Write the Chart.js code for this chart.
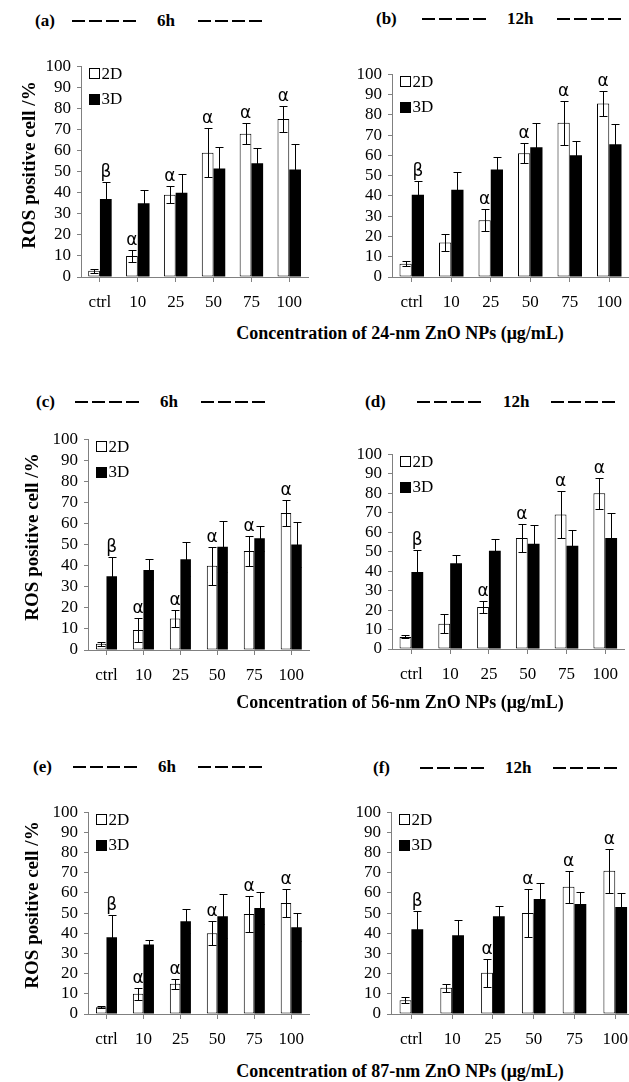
<!DOCTYPE html>
<html><head><meta charset="utf-8">
<script src="https://cdn.jsdelivr.net/npm/chart.js@4.4.1/dist/chart.umd.min.js"></script>
<style>
html,body{margin:0;padding:0;background:#fff;width:629px;height:1082px;overflow:hidden;position:relative;}
canvas{position:absolute;}
.t{position:absolute;font-family:"Liberation Serif",serif;font-weight:bold;font-size:17px;color:#000;line-height:17px;white-space:nowrap;}
.d{position:absolute;height:2px;width:64px;background:repeating-linear-gradient(90deg,#000 0 13px,transparent 13px 17px);}
.yt{position:absolute;font-family:"Liberation Serif",serif;font-weight:bold;font-size:19px;line-height:19px;white-space:nowrap;transform:translate(-50%,-50%) rotate(-90deg);}
.xt{position:absolute;font-family:"Liberation Serif",serif;font-weight:bold;font-size:18px;line-height:18px;white-space:nowrap;transform:translate(-50%,-50%);}
</style>
</head><body>
<script>
// ---- data ----
const categories = ['ctrl', '10', '25', '50', '75', '100'];
const seriesLabels = ['2D', '3D'];
const yTicks = [0, 10, 20, 30, 40, 50, 60, 70, 80, 90, 100];

// (a) 24-nm, 6h
const a2D = [3, 10, 39, 59, 68, 75];
const a2Derr = [1, 3, 4, 11.5, 5, 6];
const a3D = [37, 35, 40, 51.5, 54, 51];
const a3Derr = [8, 6.5, 9, 10, 7, 12];
// (b) 24-nm, 12h
const b2D = [6.5, 17, 28, 61, 76, 85.5];
const b2Derr = [1.3, 4, 5.5, 5, 11, 6];
const b3D = [40.5, 43, 53, 64, 60, 65.5];
const b3Derr = [7, 9, 6, 12, 7, 9.7];
// (c) 56-nm, 6h
const c2D = [3, 9.5, 15, 40, 47, 65];
const c2Derr = [1, 5.5, 4, 9, 7, 6];
const c3D = [35, 38, 43, 49, 53, 50];
const c3Derr = [9, 5, 8, 12, 6, 10.5];
// (d) 56-nm, 12h
const d2D = [6.2, 13, 21.5, 57, 69, 80];
const d2Derr = [0.8, 5, 3, 7, 12, 8];
const d3D = [39.5, 44, 50.5, 54, 53, 57];
const d3Derr = [11.5, 4, 6, 9.5, 8, 13];
// (e) 87-nm, 6h
const e2D = [3.3, 10, 15, 40, 49.5, 55];
const e2Derr = [0.5, 3, 2.5, 6, 9, 7];
const e3D = [38, 34.5, 46, 48.5, 52.5, 43];
const e3Derr = [11, 2, 6, 11, 8, 7];
// (f) 87-nm, 12h
const f2D = [6.8, 13, 20.5, 50, 63, 71];
const f2Derr = [1.5, 2, 7, 12, 8, 11];
const f3D = [42, 39, 48.5, 57, 54.5, 53];
const f3Derr = [9, 7.5, 5, 8, 6, 7];

// significance marks
const marks6h2D = ['', 'α', 'α', 'α', 'α', 'α'];
const marks12h2D = ['', '', 'α', 'α', 'α', 'α'];
const marks3D = ['β', '', '', '', '', ''];

const panelLetters = ['(a)', '(b)', '(c)', '(d)', '(e)', '(f)'];
const panelTimes = ['6h', '12h', '6h', '12h', '6h', '12h'];
const yTitle = 'ROS positive cell /%';
const xTitles = ['Concentration of 24-nm ZnO NPs (μg/mL)', 'Concentration of 56-nm ZnO NPs (μg/mL)', 'Concentration of 87-nm ZnO NPs (μg/mL)'];

// ---- layout ----
const YW = 60, PT = 14, XH = 45;
const FONT = '"Liberation Serif", serif';

const overlay = {
  id: 'overlay',
  afterDatasetsDraw(chart) {
    const ctx = chart.ctx, ys = chart.scales.y, area = chart.chartArea;
    ctx.save();
    chart.data.datasets.forEach((ds, i) => {
      const meta = chart.getDatasetMeta(i);
      meta.data.forEach((bar, j) => {
        const v = ds.data[j], e = ds.errors[j];
        const yt = Math.round(ys.getPixelForValue(v + e)) + 0.5;
        const yb = Math.round(ys.getPixelForValue(Math.max(0, v - e))) + 0.5;
        const x = Math.round(bar.x) + 0.5;
        const hw = 4;
        ctx.strokeStyle = '#000';
        ctx.lineWidth = 1;
        ctx.beginPath();
        ctx.moveTo(x, yt); ctx.lineTo(x, yb);
        ctx.moveTo(x - hw, yt); ctx.lineTo(x + hw, yt);
        ctx.moveTo(x - hw, yb); ctx.lineTo(x + hw, yb);
        ctx.stroke();
        const m = ds.marks[j];
        if (m) {
          ctx.fillStyle = '#000';
          ctx.font = '17px "DejaVu Sans", sans-serif';
          ctx.textAlign = 'center';
          ctx.textBaseline = 'alphabetic';
          ctx.fillText(m, bar.x, yt - 6);
        }
      });
    });
    // legend inside plot area
    ctx.font = '17px ' + FONT;
    ctx.textAlign = 'left';
    ctx.textBaseline = 'middle';
    chart.data.datasets.forEach((ds, i) => {
      const cy = area.top + 7 + 25.5 * i;
      const bx = Math.round(area.left + 8) + 0.5;
      const by = Math.round(cy - 5) + 0.5;
      ctx.fillStyle = ds.backgroundColor;
      ctx.fillRect(bx, by, 10, 10);
      ctx.strokeStyle = '#000';
      ctx.lineWidth = 1;
      ctx.strokeRect(bx, by, 10, 10);
      ctx.fillStyle = '#000';
      ctx.fillText(ds.label, bx + 12, cy + 1);
    });
    ctx.restore();
  }
};

function makePanel(g, d2, e2, d3, e3, m2, m3) {
  const cv = document.createElement('canvas');
  const w = g.R - g.L + YW, h = g.B - g.T + PT + XH;
  cv.width = w; cv.height = h;
  cv.style.left = (g.L - YW) + 'px';
  cv.style.top = (g.T - PT) + 'px';
  cv.style.width = w + 'px';
  cv.style.height = h + 'px';
  document.body.appendChild(cv);
  new Chart(cv, {
    type: 'bar',
    data: {
      labels: categories,
      datasets: [
        { label: seriesLabels[0], data: d2, errors: e2, marks: m2, backgroundColor: '#ffffff', borderColor: '#000000', borderWidth: 1, borderSkipped: false },
        { label: seriesLabels[1], data: d3, errors: e3, marks: m3, backgroundColor: '#000000', borderColor: '#000000', borderWidth: 0 }
      ]
    },
    options: {
      responsive: false, animation: false, devicePixelRatio: 1,
      categoryPercentage: g.cp, barPercentage: 1.0,
      layout: { padding: { top: PT, left: 0, right: 0, bottom: 0 } },
      plugins: { legend: { display: false }, tooltip: { enabled: false } },
      scales: {
        x: {
          grid: { display: true, drawOnChartArea: false, offset: false, tickLength: 5, color: '#808080' },
          border: { color: '#808080', width: 1 },
          ticks: { font: { family: FONT, size: 17 }, color: '#000', padding: 10, maxRotation: 0, autoSkip: false },
          afterFit: s => { s.height = XH; }
        },
        y: {
          min: 0, max: 100,
          afterBuildTicks: s => { s.ticks = yTicks.map(v => ({ value: v })); },
          grid: { display: true, drawOnChartArea: false, tickLength: 4, color: '#808080' },
          border: { color: '#808080', width: 1 },
          ticks: { font: { family: FONT, size: 17 }, color: '#000', padding: 6, autoSkip: false },
          afterFit: s => { s.width = YW; }
        }
      }
    },
    plugins: [overlay]
  });
}

const geoms = [
  { L: 81, R: 312, T: 64, B: 277, cp: 0.62 },
  { L: 392, R: 632, T: 72, B: 277, cp: 0.62 },
  { L: 88, R: 314, T: 437, B: 650, cp: 0.57 },
  { L: 392, R: 628, T: 452, B: 649, cp: 0.61 },
  { L: 88, R: 314, T: 810, B: 1014, cp: 0.57 },
  { L: 391, R: 638, T: 810, B: 1014, cp: 0.58 }
];

makePanel(geoms[0], a2D, a2Derr, a3D, a3Derr, marks6h2D, marks3D);
makePanel(geoms[1], b2D, b2Derr, b3D, b3Derr, marks12h2D, marks3D);
makePanel(geoms[2], c2D, c2Derr, c3D, c3Derr, marks6h2D, marks3D);
makePanel(geoms[3], d2D, d2Derr, d3D, d3Derr, marks12h2D, marks3D);
makePanel(geoms[4], e2D, e2Derr, e3D, e3Derr, marks6h2D, marks3D);
makePanel(geoms[5], f2D, f2Derr, f3D, f3Derr, marks12h2D, marks3D);

// ---- text decorations ----
function addText(cls, txt, x, y) {
  const el = document.createElement('div');
  el.className = cls; el.textContent = txt;
  el.style.left = x + 'px'; el.style.top = y + 'px';
  document.body.appendChild(el);
  return el;
}
function addDash(x, y) {
  const el = document.createElement('div');
  el.className = 'd';
  el.style.left = x + 'px'; el.style.top = (y - 1) + 'px';
  document.body.appendChild(el);
}
const titlePos = [
  { y: 21, l: 35, d1: 72, t: 157, d2: 198 },
  { y: 19, l: 376, d1: 422, t: 507, d2: 557 },
  { y: 402, l: 36, d1: 75, t: 160, d2: 201 },
  { y: 402, l: 365, d1: 417, t: 503, d2: 551 },
  { y: 767, l: 33, d1: 73, t: 158, d2: 198 },
  { y: 768, l: 373, d1: 420, t: 505, d2: 553 }
];
titlePos.forEach((p, i) => {
  addText('t', panelLetters[i], p.l, p.y - 9);
  addDash(p.d1, p.y);
  addText('t', panelTimes[i], p.t, p.y - 9);
  addDash(p.d2, p.y);
});
[[28, 165], [31, 537], [31, 905]].forEach(p => addText('yt', yTitle, p[0], p[1]));
[[400, 333], [400, 702], [400, 1071]].forEach((p, i) => addText('xt', xTitles[i], p[0], p[1]));
</script>
</body></html>
